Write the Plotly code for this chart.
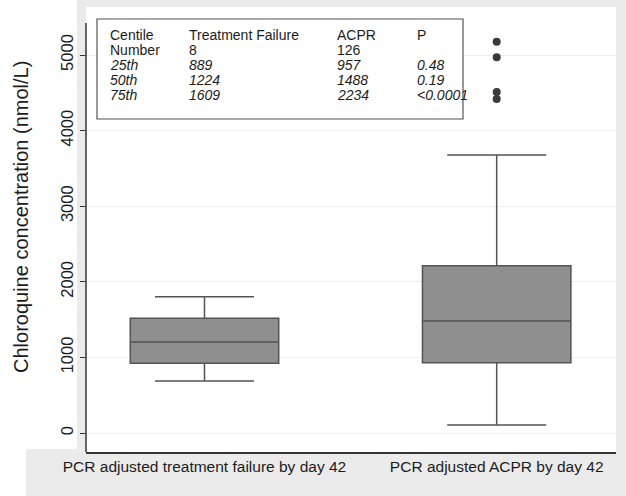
import plotly.graph_objects as go

# ---------------- data ----------------
categories = ["PCR adjusted treatment failure by day 42", "PCR adjusted ACPR by day 42"]
q1_vals = [922, 930]
median_vals = [1204, 1481]
q3_vals = [1517, 2213]
lower_whisker = [688, 106]
upper_whisker = [1803, 3677]
acpr_outliers = [5176, 4970, 4511, 4418]

y_ticks = [0, 1000, 2000, 3000, 4000, 5000]

table_header = ["Centile", "Treatment Failure", "ACPR", "P"]
table_rows = [
    ["Number", "8", "126", ""],
    ["25th", "889", "957", "0.48"],
    ["50th", "1224", "1488", "0.19"],
    ["75th", "1609", "2234", "<0.0001"],
]
italic_rows = [False, True, True, True]

# ---------------- layout geometry ----------------
W, H = 626, 496
L, R, T, B = 86, 10, 7, 44
PW, PH = W - L - R, H - T - B
BOTTOM = H - B


def px(xp):
    return (xp - L) / PW


def py(yp):
    return (BOTTOM - yp) / PH


GRAY = "#ebebeb"
FONT = "Liberation Sans, Arial, sans-serif"
TXT = "#1c1c1c"

fig = go.Figure()

for i, cat in enumerate(categories):
    fig.add_trace(go.Box(
        x=[i], q1=[q1_vals[i]], median=[median_vals[i]], q3=[q3_vals[i]],
        lowerfence=[lower_whisker[i]], upperfence=[upper_whisker[i]],
        width=0.508, whiskerwidth=0.667,
        fillcolor="#8f8f8f", line=dict(color="#545454", width=1.5),
        boxpoints=False, name=cat, showlegend=False, hoverinfo="skip",
    ))

fig.add_trace(go.Scatter(
    x=[1] * len(acpr_outliers), y=acpr_outliers, mode="markers",
    marker=dict(color="#3a3a3a", size=8), showlegend=False, hoverinfo="skip",
))

shapes = [
    # white region for y-axis title area
    dict(type="rect", xref="paper", yref="paper", x0=px(0), x1=px(77), y0=py(449), y1=py(0),
         fillcolor="white", line_width=0, layer="below"),
    dict(type="rect", xref="paper", yref="paper", x0=px(0), x1=px(26), y0=py(H), y1=py(449),
         fillcolor="white", line_width=0, layer="below"),
    # y-axis line
    dict(type="line", xref="paper", yref="paper", x0=0, x1=0, y0=0, y1=py(23),
         line=dict(color="#333333", width=1.5)),
    # table box
    dict(type="rect", xref="paper", yref="paper", x0=px(97), x1=px(463), y0=py(119), y1=py(19),
         fillcolor="white", line=dict(color="#555555", width=1.2)),
]

annotations = []
col_x = [108, 187, 335, 415]
row_y = [35, 50, 65, 80, 95]
all_rows = [table_header] + table_rows
all_italic = [False] + italic_rows
for r, row in enumerate(all_rows):
    for c, txt in enumerate(row):
        if not txt:
            continue
        t = f"<i>{txt}</i>" if all_italic[r] else txt
        annotations.append(dict(
            xref="paper", yref="paper", x=px(col_x[c]), y=py(row_y[r]),
            xanchor="left", yanchor="middle", text=t, showarrow=False,
            font=dict(family=FONT, size=14, color=TXT),
        ))

annotations.append(dict(
    xref="paper", yref="paper", x=px(21), y=py(217), textangle=-90,
    text="Chloroquine concentration (nmol/L)", showarrow=False,
    xanchor="center", yanchor="middle",
    font=dict(family=FONT, size=20, color=TXT),
))

fig.update_layout(
    width=W, height=H,
    margin=dict(l=L, r=R, t=T, b=B, pad=0),
    paper_bgcolor=GRAY, plot_bgcolor="white",
    shapes=shapes, annotations=annotations,
    xaxis=dict(
        range=[-0.4055, 1.4083], tickvals=[0, 1], ticktext=categories,
        showgrid=False, zeroline=False, showline=True, linecolor="#333333", linewidth=1.5,
        ticks="", tickfont=dict(family=FONT, size=15.5, color=TXT),
        fixedrange=True,
    ),
    yaxis=dict(
        range=[-251, 5635], tickvals=y_ticks, ticktext=[str(v) for v in y_ticks],
        showgrid=True, gridcolor="#eeeeee", gridwidth=1, zeroline=False,
        showline=False, ticks="outside", ticklen=5, tickcolor="#333333", tickwidth=1.2,
        tickangle=-90, tickfont=dict(family=FONT, size=16.5, color=TXT),
        fixedrange=True,
    ),
)

fig.write_html(
    "out.html",
    config={"displayModeBar": False},
    post_script="document.body.style.margin='0';document.body.style.padding='0';",
)
